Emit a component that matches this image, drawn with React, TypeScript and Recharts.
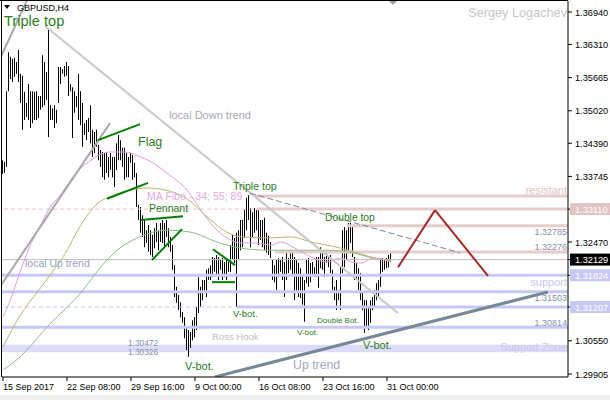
import {
    ComposedChart,
    Bar,
    Line,
    XAxis,
    YAxis,
    ReferenceLine,
    ReferenceArea,
} from "recharts";

// H4 bars, GBPUSD, 15 Sep .. 31 Oct 2017 (high / low)
const highs = [
    1.3406, 1.3403, 1.354, 1.3616, 1.3607, 1.3603, 1.3605, 1.3597, 1.362, 1.3574,
    1.357, 1.3539, 1.3517, 1.3554, 1.354, 1.354, 1.3539, 1.354, 1.3531, 1.3531,
    1.361, 1.3597, 1.3577, 1.3659, 1.3513, 1.3507, 1.3513, 1.3504, 1.3587, 1.3587,
    1.3583, 1.3589, 1.3597, 1.3589, 1.3554, 1.3548, 1.354, 1.3531, 1.3574, 1.354,
    1.3517, 1.3478, 1.3484, 1.3488, 1.3513, 1.3465, 1.3461, 1.3465, 1.3436, 1.3426,
    1.3422, 1.342, 1.3422, 1.3412, 1.342, 1.3412, 1.3412, 1.3439, 1.3455, 1.3445,
    1.343, 1.343, 1.342, 1.3412, 1.342, 1.3416, 1.3401, 1.3381, 1.3319, 1.3315,
    1.3299, 1.329, 1.327, 1.328, 1.327, 1.3261, 1.3274, 1.3284, 1.327, 1.3284,
    1.329, 1.3284, 1.329, 1.3274, 1.3257, 1.3241, 1.3202, 1.316, 1.3144, 1.313,
    1.3111, 1.3101, 1.3082, 1.3076, 1.3072, 1.3095, 1.3101, 1.3121, 1.3179, 1.316,
    1.3173, 1.3173, 1.3193, 1.3196, 1.3202, 1.3218, 1.3216, 1.3222, 1.3218, 1.3212,
    1.3216, 1.3208, 1.3212, 1.3208, 1.3241, 1.3261, 1.3255, 1.3265, 1.327, 1.329,
    1.329, 1.3309, 1.3333, 1.3338, 1.3313, 1.3305, 1.3313, 1.3309, 1.3309, 1.329,
    1.329, 1.3294, 1.3265, 1.3259, 1.3247, 1.3212, 1.3202, 1.3212, 1.3216, 1.3212,
    1.3218, 1.3208, 1.3228, 1.3216, 1.3231, 1.3228, 1.3218, 1.3212, 1.3206, 1.3196,
    1.3183, 1.3173, 1.3212, 1.3216, 1.3206, 1.3208, 1.3198, 1.3218, 1.3218, 1.3237,
    1.3228, 1.3218, 1.3228, 1.3218, 1.3222, 1.3193, 1.316, 1.3173, 1.3154, 1.3198,
    1.327, 1.3276, 1.327, 1.3284, 1.3284, 1.3276, 1.3218, 1.3206, 1.3196, 1.3187,
    1.3148, 1.3134, 1.3134, 1.3121, 1.3134, 1.314, 1.3154, 1.3167, 1.3173, 1.3212,
    1.3216, 1.3212, 1.3216, 1.3222, 1.3226,
];

const lows = [
    1.3379, 1.3381, 1.3393, 1.354, 1.3564, 1.3558, 1.3568, 1.3574, 1.3558, 1.3517,
    1.3465, 1.3484, 1.349, 1.3484, 1.3469, 1.3478, 1.3484, 1.3484, 1.3488, 1.3504,
    1.3509, 1.3513, 1.3523, 1.3451, 1.3484, 1.3484, 1.3469, 1.3478, 1.3517, 1.3554,
    1.3574, 1.3568, 1.357, 1.3531, 1.354, 1.3449, 1.3498, 1.3509, 1.3484, 1.3474,
    1.3432, 1.3455, 1.3445, 1.3461, 1.3439, 1.3412, 1.342, 1.3432, 1.3406, 1.3393,
    1.3373, 1.3368, 1.3381, 1.3373, 1.3387, 1.3373, 1.3354, 1.3387, 1.3406, 1.3406,
    1.3393, 1.3368, 1.3373, 1.3373, 1.3401, 1.3368, 1.3373, 1.3315, 1.329, 1.3265,
    1.3257, 1.3237, 1.3245, 1.3228, 1.3222, 1.3218, 1.3235, 1.3247, 1.3231, 1.3247,
    1.3245, 1.3237, 1.3257, 1.3237, 1.3228, 1.3193, 1.314, 1.3129, 1.3115, 1.3101,
    1.309, 1.306, 1.3037, 1.3024, 1.3041, 1.3056, 1.3062, 1.3076, 1.3109, 1.3121,
    1.3134, 1.3148, 1.314, 1.3173, 1.3173, 1.3179, 1.3189, 1.3183, 1.3173, 1.3193,
    1.3173, 1.3179, 1.3173, 1.3189, 1.3189, 1.3212, 1.3206, 1.3121, 1.3212, 1.3231,
    1.3237, 1.3255, 1.327, 1.329, 1.3237, 1.3257, 1.3265, 1.327, 1.3241, 1.3251,
    1.3237, 1.3231, 1.3226, 1.3222, 1.3216, 1.3173, 1.3169, 1.3154, 1.3179, 1.3189,
    1.3173, 1.314, 1.3173, 1.3187, 1.3193, 1.3183, 1.3134, 1.3148, 1.314, 1.3138,
    1.3125, 1.3092, 1.3167, 1.316, 1.3169, 1.3183, 1.3179, 1.3179, 1.3158, 1.3196,
    1.3193, 1.3179, 1.3206, 1.3198, 1.3187, 1.3154, 1.3134, 1.3115, 1.3134, 1.3115,
    1.3187, 1.3198, 1.3212, 1.3231, 1.3245, 1.3218, 1.3173, 1.3173, 1.3154, 1.3134,
    1.3115, 1.307, 1.3082, 1.3076, 1.309, 1.3115, 1.3121, 1.3134, 1.314, 1.316,
    1.3189, 1.3193, 1.3196, 1.3198, 1.3208,
];

// MA Fibo 34 / 55 / 89, sampled at some bars
const ma34Bars = [0, 4, 8, 13, 18, 24, 29, 34, 39, 44, 49, 54, 61, 69, 74, 82, 92, 100, 107, 112, 119, 127, 134, 139, 145, 154, 162, 169, 174, 179, 185, 194];
const ma34 = [1.3101, 1.3138, 1.3183, 1.3235, 1.3274, 1.3317, 1.334, 1.3368, 1.3391, 1.3406, 1.3418, 1.3422, 1.3422, 1.3412, 1.3403, 1.3381, 1.3348, 1.3303, 1.327, 1.3255, 1.3245, 1.3245, 1.3241, 1.3247, 1.3237, 1.3218, 1.3208, 1.3216, 1.3208, 1.3206, 1.3216, 1.3208];

const ma55Bars = [0, 8, 18, 26, 31, 38, 47, 54, 64, 72, 81, 92, 102, 112, 119, 134, 144, 154, 167, 177, 184, 194];
const ma55 = [1.3043, 1.3101, 1.3154, 1.3196, 1.3224, 1.3274, 1.3321, 1.3336, 1.3348, 1.3352, 1.3348, 1.3331, 1.3296, 1.3266, 1.3257, 1.3255, 1.3257, 1.3247, 1.3237, 1.3226, 1.3218, 1.321];

const ma89Bars = [0, 8, 24, 37, 52, 59, 65, 74, 82, 94, 107, 119, 134, 145, 162, 175, 185, 194];
const ma89 = [1.2998, 1.3022, 1.309, 1.314, 1.3212, 1.3237, 1.3251, 1.3265, 1.327, 1.3266, 1.3247, 1.3235, 1.3231, 1.3231, 1.3231, 1.3226, 1.3216, 1.3212];

const timeTicks = [0, 32, 64, 96, 128, 160, 192];
const timeLabels = ["15 Sep 2017", "22 Sep 08:00", "29 Sep 16:00", "9 Oct 00:00", "16 Oct 08:00", "23 Oct 16:00", "31 Oct 00:00"];
const priceTicks = [1.3694, 1.3631, 1.35665, 1.3502, 1.3439, 1.33745, 1.3311, 1.3247, 1.32129, 1.31824, 1.31207, 1.3055, 1.29905];

const lastPrice = 1.32129;
const resistTop = 1.33364;
const resistMain = 1.3311;
const resist2 = 1.32785;
const resist3 = 1.32276;
const supportLines = [1.31824, 1.31503, 1.30814];
const support2 = 1.31207;
const supportZone = [1.30326, 1.30472];

// segments: [bar1, price1, bar2, price2]
const downTrend = [21, 1.3667, 197.5, 1.3109];
const upTrendLocal = [-1.5, 1.316, 53.5, 1.3478];
const upTrendOld = [-1.5, 1.3603, 12, 1.3717];
const upTrend = [106, 1.2985, 272.5, 1.315];
const topsLine = [123.5, 1.3342, 228.5, 1.3226];
const forecast = [
    [197.5, 1.3198, 216, 1.3309],
    [216, 1.3309, 242.5, 1.3181],
];
const patterns = [
    [47.5, 1.3445, 68.5, 1.3476],
    [52, 1.3331, 72.5, 1.3362],
    [69, 1.329, 90, 1.3297],
    [74.5, 1.3212, 89.5, 1.3272],
    [105, 1.3233, 116, 1.3202],
    [104.5, 1.3169, 116, 1.3169],
];

const rows = highs.map((h, i) => ({
    i,
    hl: [lows[i], h],
    ma34: ma34[ma34Bars.indexOf(i)],
    ma55: ma55[ma55Bars.indexOf(i)],
    ma89: ma89[ma89Bars.indexOf(i)],
}));

const FONT = "'Liberation Sans', Arial, sans-serif";
const GREEN = "#2a7d1c";

const boxes: Record<string, { bg: string; fg: string }> = {
    "1.33110": { bg: "#e3c4c4", fg: "#ffffff" },
    "1.32129": { bg: "#000000", fg: "#ffffff" },
    "1.31824": { bg: "#c8c8f4", fg: "#ffffff" },
    "1.31207": { bg: "#c8c8f4", fg: "#ffffff" },
};

function PriceTick(props: any) {
    const { x, y, payload } = props;
    const label = Number(payload.value).toFixed(5);
    const box = boxes[label];
    return (
        <g>
            {box && <rect x={x - 4} y={y - 6} width={44} height={12} fill={box.bg} />}
            <text x={x + 1} y={y} dy={3.5} fontSize={9.2} fontFamily={FONT} fill={box ? box.fg : "#000"}>
                {label}
            </text>
        </g>
    );
}

function TimeTick(props: any) {
    const { x, y, payload } = props;
    const k = timeTicks.indexOf(payload.value);
    return (
        <text x={x} y={y} dy={7} fontSize={9} fontFamily={FONT} fill="#000">
            {timeLabels[k]}
        </text>
    );
}

function seg(s: number[], key: string, stroke: string, width: number, dash?: string) {
    return (
        <ReferenceLine
            key={key}
            segment={[
                { x: s[0], y: s[1] },
                { x: s[2], y: s[3] },
            ]}
            stroke={stroke}
            strokeWidth={width}
            strokeDasharray={dash}
            ifOverflow="hidden"
        />
    );
}

function Txt(p: { x: number; y: number; s: number; c: string; t: string; end?: boolean }) {
    return (
        <text x={p.x} y={p.y} fontSize={p.s} fill={p.c} fontFamily={FONT} textAnchor={p.end ? "end" : "start"}>
            {p.t}
        </text>
    );
}

export default function App() {
    const X0 = -0.5;
    const X1 = 282.5;
    return (
        <div style={{ position: "fixed", left: 0, top: 0, width: 610, height: 400, background: "#fff" }}>
            <ComposedChart width={610} height={400} data={rows} margin={{ top: 1, right: 0, bottom: 0, left: 2 }}>
                <XAxis
                    dataKey="i"
                    type="number"
                    domain={[X0, X1]}
                    allowDataOverflow
                    ticks={timeTicks}
                    interval={0}
                    tick={<TimeTick />}
                    tickSize={4}
                    height={23}
                    stroke="#000"
                />
                <YAxis
                    orientation="right"
                    type="number"
                    domain={[1.29847, 1.37154]}
                    allowDataOverflow
                    ticks={priceTicks}
                    interval={0}
                    tick={<PriceTick />}
                    tickSize={4}
                    width={42}
                    stroke="#000"
                />

                <ReferenceArea y1={supportZone[0]} y2={supportZone[1]} fill="#dcdcf8" fillOpacity={1} stroke="none" ifOverflow="hidden" />
                {supportLines.map((v) => (
                    <ReferenceLine key={"s" + v} y={v} stroke="#c8c8f4" strokeWidth={3} />
                ))}
                <ReferenceLine y={support2} stroke="#c8c8f0" strokeWidth={1} strokeDasharray="4 3" />
                {seg([117, support2, X1, support2], "s2", "#c8c8f4", 3)}
                <ReferenceLine y={resistMain} stroke="#e6c4c4" strokeWidth={1} strokeDasharray="4 3" />
                {seg([127, resistMain, X1, resistMain], "r1", "#e6cccc", 3)}
                {seg([126, resistTop, X1, resistTop], "r0", "#e6cccc", 3)}
                {seg([172, resist2, X1, resist2], "r2", "#e6cccc", 3)}
                {seg([136, resist3, X1, resist3], "r3", "#e6cccc", 3)}
                <ReferenceLine y={lastPrice} stroke="#c0c0c0" strokeWidth={1} />

                <Bar dataKey="hl" fill="#000" barSize={1} isAnimationActive={false} />

                <Line dataKey="ma89" type="monotone" stroke="#8fbc8f" strokeWidth={1} dot={false} connectNulls isAnimationActive={false} />
                <Line dataKey="ma55" type="monotone" stroke="#bdb76b" strokeWidth={1} dot={false} connectNulls isAnimationActive={false} />
                <Line dataKey="ma34" type="monotone" stroke="#dda0dd" strokeWidth={1} dot={false} connectNulls isAnimationActive={false} />

                {seg(downTrend, "dt", "#c8c8c8", 2)}
                {seg(upTrendLocal, "ul", "#a8a8a8", 2)}
                {seg(upTrendOld, "uo", "#a8a8a8", 2)}
                {seg(upTrend, "ut", "#778899", 3)}
                {seg(topsLine, "tl", "#7888a0", 1, "6 3")}
                {forecast.map((s, k) => seg(s, "f" + k, "#a52a2a", 2))}
                {patterns.map((s, k) => seg(s, "p" + k, "#008000", 2))}
            </ComposedChart>

            <svg width={610} height={400} style={{ position: "absolute", left: 0, top: 0, pointerEvents: "none" }}>
                <line x1={0} y1={0.5} x2={568} y2={0.5} stroke="#000" />
                <line x1={1.5} y1={0} x2={1.5} y2={377} stroke="#000" />
                <rect x={0} y={395} width={610} height={5} fill="#f0f0f0" />
                <polygon points="4,5 10,5 7,9" fill="#000" />
                <polygon points="389,1 397,1 393,5" fill="#a0a0a0" />
                <Txt x={17} y={10.5} s={9} c="#000" t="GBPUSD,H4" />
                <Txt x={4} y={25.5} s={14.6} c={GREEN} t="Triple top" />
                <Txt x={567} y={17} s={12.7} c="#c8c8c8" t="Sergey Logachev" end />
                <Txt x={169} y={119} s={11} c="#a8aab4" t="local Down trend" />
                <Txt x={138} y={146} s={12.5} c={GREEN} t="Flag" />
                <Txt x={147} y={200} s={10.6} c="#e6a8e6" t="MA Fibo - 34; 55; 89" />
                <Txt x={149} y={212} s={10.5} c={GREEN} t="Pennant" />
                <Txt x={233} y={190} s={10.6} c={GREEN} t="Triple top" />
                <Txt x={325} y={221} s={10.3} c={GREEN} t="Double top" />
                <Txt x={25} y={267} s={10.5} c="#9ca2c4" t="local  Up trend" />
                <Txt x={233} y={317} s={9.4} c={GREEN} t="V-bot." />
                <Txt x={297} y={335} s={8.1} c={GREEN} t="V-bot." />
                <Txt x={317} y={323} s={8} c={GREEN} t="Double Bot." />
                <Txt x={363} y={349} s={11} c={GREEN} t="V-bot." />
                <Txt x={185} y={370} s={11} c={GREEN} t="V-bot." />
                <Txt x={212} y={340} s={9.5} c="#c0c0c0" t="Ross Hook" />
                <Txt x={293} y={369} s={12.3} c="#a4a8c8" t="Up trend" />
                <Txt x={128} y={346} s={8.3} c="#8890a8" t="1.30472" />
                <Txt x={128} y={355} s={8.3} c="#8890a8" t="1.30326" />
                <Txt x={567} y={235} s={9} c="#8890a8" t="1.32785" end />
                <Txt x={567} y={250} s={9} c="#8890a8" t="1.32276" end />
                <Txt x={567} y={301} s={9} c="#8890a8" t="1.31503" end />
                <Txt x={567} y={326} s={9} c="#8890a8" t="1.30814" end />
                <Txt x={567} y={194} s={11} c="#e8c0c0" t="resistant" end />
                <Txt x={567} y={286} s={11} c="#c8c8f0" t="support" end />
                <Txt x={567} y={351} s={11} c="#c8c8f0" t="Support Zone" end />
            </svg>
        </div>
    );
}
